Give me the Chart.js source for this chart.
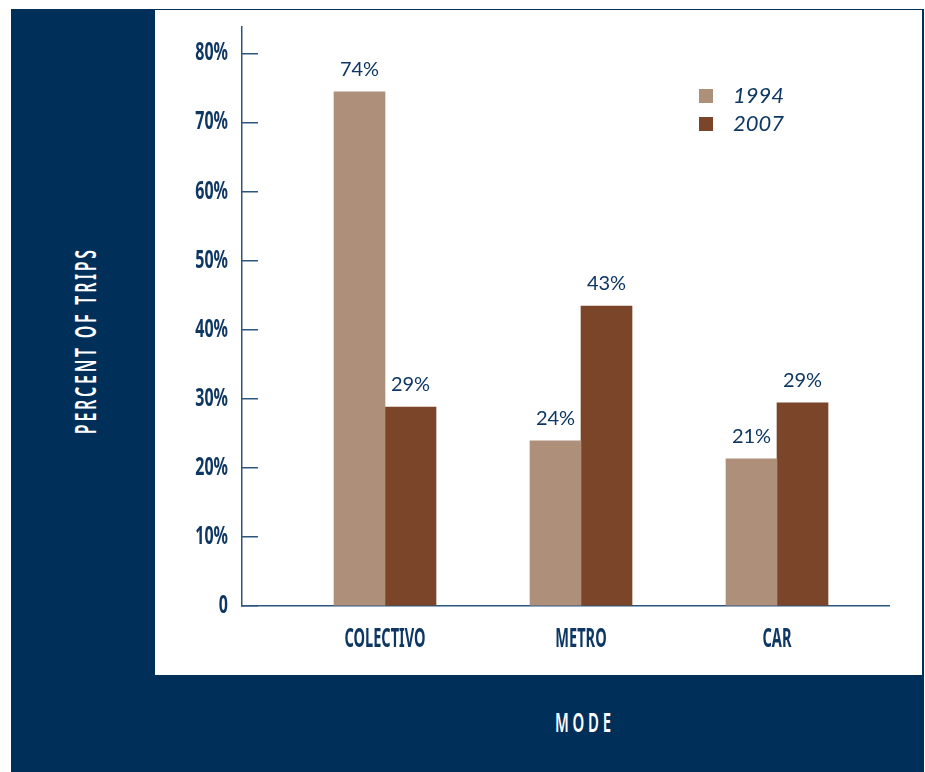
<!DOCTYPE html>
<html><head><meta charset="utf-8">
<script src="https://cdn.jsdelivr.net/npm/chart.js@4.4.1/dist/chart.umd.min.js"></script>
<style>
html,body{margin:0;padding:0;background:#fff;}
#page{position:relative;width:925px;height:772px;overflow:hidden;background:#fff;}
#frame{position:absolute;left:11px;top:9px;width:913px;height:763px;background:#00305A;}
#panel{position:absolute;left:155px;top:10px;width:767px;height:665px;background:#fff;}
#wrap{position:absolute;left:155px;top:11px;width:767px;height:664px;}
.title{position:absolute;color:#fff;font-family:'Noto Sans',sans-serif;font-weight:600;white-space:nowrap;line-height:1;}
#ytitle{left:84px;top:342px;font-size:29px;letter-spacing:5px;padding-left:5px;transform:translate(-50%,-50%) rotate(-90deg) scaleX(0.55);}
#xtitle{left:583px;top:721px;font-size:27px;letter-spacing:7px;padding-left:7px;transform:translate(-50%,-50%) scaleX(0.55);}
</style></head><body>
<div id="page">
  <div id="frame"></div>
  <div id="panel"></div>
  <div class="title" id="ytitle">PERCENT OF TRIPS</div>
  <div class="title" id="xtitle">MODE</div>
  <div id="wrap"><canvas id="c"></canvas></div>
</div>
<script>
const categories = ['COLECTIVO', 'METRO', 'CAR'];
const seriesNames = ['1994', '2007'];
const values1994 = [74.4, 23.9, 21.3];
const values2007 = [28.8, 43.4, 29.4];
const yTickValues = [0, 10, 20, 30, 40, 50, 60, 70, 80];

const NAVY = '#0e3863';
const COLORS = ['#AD8F7A', '#7A4528'];
const tickFamily = "'Noto Sans', sans-serif";

const toPoints = arr => arr.map((v, i) => ({ x: i + 1, y: v }));

// narrows the axis label glyphs (the original uses a condensed typeface)
const condenseLabels = {
  id: 'condenseLabels',
  beforeDraw(chart, args, opts) {
    Object.values(chart.scales).forEach(scale => {
      if (scale.$condensed) return;
      scale.$condensed = true;
      const factor = opts[scale.id] || 1;
      const orig = scale.drawLabels;
      scale.drawLabels = function (area) {
        const ctx = this.ctx;
        const fill = ctx.fillText;
        ctx.fillText = function (t, x, y, mw) {
          ctx.save();
          ctx.scale(factor, 1);
          if (mw === undefined) fill.call(ctx, t, x / factor, y);
          else fill.call(ctx, t, x / factor, y, mw / factor);
          ctx.restore();
        };
        try { orig.call(this, area); } finally { delete ctx.fillText; }
      };
    });
  }
};

const valueLabels = {
  id: 'valueLabels',
  afterDatasetsDraw(chart) {
    const ctx = chart.ctx;
    ctx.save();
    ctx.font = '20px Lato, sans-serif';
    ctx.fillStyle = NAVY;
    ctx.textAlign = 'center';
    ctx.textBaseline = 'alphabetic';
    chart.data.datasets.forEach((ds, di) => {
      const meta = chart.getDatasetMeta(di);
      meta.data.forEach((bar, i) => {
        const v = ds.data[i].y;
        ctx.fillText(Math.round(v) + '%', bar.x, bar.y - 16);
      });
    });
    ctx.restore();
  }
};

const innerLegend = {
  id: 'innerLegend',
  afterDraw(chart, args, opts) {
    const ctx = chart.ctx;
    ctx.save();
    ctx.font = 'italic 22px Lato, sans-serif';
    ctx.textBaseline = 'middle';
    ctx.textAlign = 'left';
    chart.data.datasets.forEach((ds, i) => {
      const y = opts.y + i * opts.gap;
      ctx.fillStyle = ds.backgroundColor;
      ctx.fillRect(opts.x, y, opts.box, opts.box);
      ctx.fillStyle = NAVY;
      ctx.fillText(ds.label, opts.x + opts.textOffset, y + opts.box / 2);
    });
    ctx.restore();
  }
};

new Chart(document.getElementById('c'), {
  type: 'bar',
  data: {
    datasets: [
      { label: seriesNames[0], data: toPoints(values1994), backgroundColor: COLORS[0], barThickness: 51 },
      { label: seriesNames[1], data: toPoints(values2007), backgroundColor: COLORS[1], barThickness: 51 }
    ]
  },
  options: {
    responsive: true,
    maintainAspectRatio: false,
    animation: false,
    layout: { padding: { top: 16, right: 33, left: 0, bottom: 0 } },
    plugins: {
      legend: { display: false },
      tooltip: { enabled: false },
      innerLegend: { x: 544, y: 78, gap: 28, box: 14, textOffset: 34 },
      condenseLabels: { x: 0.56, y: 0.64 }
    },
    scales: {
      x: {
        type: 'linear',
        offset: false,
        min: 0.2704,
        max: 3.5714,
        grid: { display: false },
        border: { display: true, color: '#2c5580', width: 1.5 },
        afterFit(scale) { scale.height = 69; scale.paddingLeft = 0; scale.paddingRight = 0; },
        ticks: {
          stepSize: 1,
          includeBounds: false,
          autoSkip: false,
          maxRotation: 0,
          padding: 10,
          color: NAVY,
          font: { family: tickFamily, size: 26, weight: 'bold' },
          callback: v => (Number.isInteger(v) && categories[v - 1]) ? categories[v - 1] : ''
        }
      },
      y: {
        min: 0,
        max: 83.8,
        afterFit(scale) { scale.width = 87; scale.paddingTop = 0; scale.paddingBottom = 0; },
        afterBuildTicks(scale) { scale.ticks = yTickValues.map(v => ({ value: v })); },
        grid: { display: true, drawOnChartArea: false, drawTicks: true, tickLength: -16, color: '#2c5580', lineWidth: 1.5 },
        border: { display: true, color: '#2c5580', width: 1.5 },
        ticks: {
          padding: 30,
          color: NAVY,
          font: { family: tickFamily, size: 25, weight: 'bold' },
          callback: v => v === 0 ? '0' : v + '%'
        }
      }
    }
  },
  plugins: [condenseLabels, valueLabels, innerLegend]
});
</script>
</body></html>
